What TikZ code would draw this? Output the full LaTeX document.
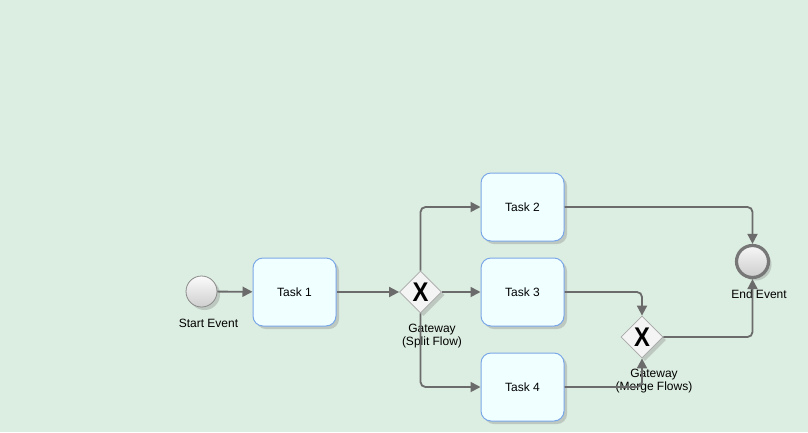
\documentclass[tikz,border=0pt]{standalone}
\usepackage{fontspec}
\setmainfont{Liberation Sans}
\usetikzlibrary{shapes.geometric,arrows.meta,shadows}
\definecolor{bgc}{HTML}{DCEDE1}
\definecolor{taskfill}{HTML}{F0FFFF}
\definecolor{taskdraw}{HTML}{7AA7E8}
\definecolor{flowc}{HTML}{6B6B6B}
\definecolor{gwdraw}{HTML}{A8A8A8}
\definecolor{gwfill}{HTML}{F4F4F4}
\definecolor{evdraw}{HTML}{8A8A8A}
\definecolor{enddraw}{HTML}{777777}
\definecolor{shadowc}{HTML}{BCC8C0}
\tikzset{
  mysh/.style={drop shadow={shadow xshift=3pt,shadow yshift=-3pt,fill=shadowc,opacity=1}},
  taskbox/.style={draw=taskdraw,line width=1pt,fill=taskfill,rounded corners=10pt,
    minimum width=83pt,minimum height=68pt,inner sep=0pt,font=\fontsize{12}{14}\selectfont,mysh},
  gateway/.style={diamond,draw=gwdraw,line width=0.8pt,fill=gwfill,minimum width=42pt,
    minimum height=42pt,inner sep=0pt,mysh},
  xmark/.style={font=\bfseries\fontsize{27}{27}\selectfont,inner sep=0pt},
  startev/.style={circle,draw=evdraw,line width=0.8pt,minimum size=31pt,inner sep=0pt,
    top color=white!97!gray,bottom color=gray!38,mysh},
  endev/.style={circle,draw=enddraw,line width=3.2pt,minimum size=32pt,inner sep=0pt,
    top color=white!94!gray,bottom color=gray!40,mysh},
  lbl/.style={font=\fontsize{12}{13}\selectfont,align=center,inner sep=0pt},
  flow/.style={draw=flowc,line width=1.8pt,rounded corners=5pt,
    -{Triangle[length=10pt,width=10pt]},shorten >=0pt}
}
\begin{document}
\begin{tikzpicture}[x=1pt,y=-1pt]
\fill[bgc] (0,0) rectangle (808,432);
\useasboundingbox (0,0) rectangle (808,432);

\node[startev] (s) at (201.5,291.5) {};
\node[lbl] (sl) at (208.5,323) {Start Event};
\node[taskbox] (t1) at (294.5,292) {Task 1};
\node[gateway] (g1) at (420.5,292) {};
\node[xmark] (g1x) at (g1) {\scalebox{0.88}[1]{X}};
\node[lbl] (g1l) at (432,336.5) {Gateway\\(Split Flow)};
\node[taskbox] (t2) at (522.5,207) {Task 2};
\node[taskbox] (t3) at (522.5,292) {Task 3};
\node[taskbox] (t4) at (522.5,387) {Task 4};
\node[gateway] (g2) at (642,337) {};
\node[xmark] (g2x) at (g2) {\scalebox{0.88}[1]{X}};
\node[lbl] (g2l) at (654,381.5) {Gateway\\(Merge Flows)};
\node[endev] (e) at (752.5,261.5) {};
\node[lbl] (el) at (759,294) {End Event};

\draw[flow] (s) -- (t1);
\draw[flow] (t1) -- (g1);
\draw[flow] (g1.north) |- (t2.west);
\draw[flow] (g1) -- (t3);
\draw[flow] (g1.south) |- (t4.west);
\draw[flow] (t2.east) -| (e.north);
\draw[flow] (t3.east) -| (g2.north);
\draw[flow] (t4.east) -| (g2.south);
\draw[flow] (g2.east) -| (e.south);
\end{tikzpicture}
\end{document}
